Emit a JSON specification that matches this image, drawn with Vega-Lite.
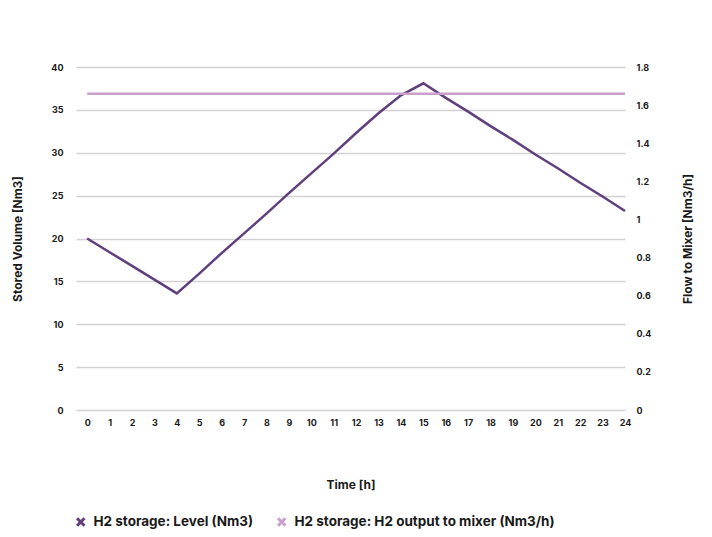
{
  "$schema": "https://vega.github.io/schema/vega-lite/v6.json",
  "width": 549,
  "height": 343,
  "autosize": "none",
  "padding": {"left": 76, "top": 67, "right": 87, "bottom": 127},
  "background": "white",
  "config": {
    "view": {"stroke": null},
    "font": "Inter",
    "axis": {
      "labelFont": "Inter", "labelFontWeight": "bold", "labelFontSize": 9, "labelColor": "#1a1a1a",
      "titleFont": "Inter", "titleFontWeight": "bold", "titleFontSize": 12, "titleColor": "#1a1a1a",
      "domain": false, "ticks": false, "gridColor": "#d2d2d2", "gridWidth": 1.5
    },
    "legend": {
      "labelFont": "Inter", "labelFontWeight": "bold", "labelFontSize": 13.5, "labelColor": "#1a1a1a", "labelLimit": 400
    }
  },
  "data": {"values": [
    {"hour": 0, "series": "H2 storage: Level (Nm3)", "value": 20},
    {"hour": 1, "series": "H2 storage: Level (Nm3)", "value": 18.4},
    {"hour": 2, "series": "H2 storage: Level (Nm3)", "value": 16.8},
    {"hour": 3, "series": "H2 storage: Level (Nm3)", "value": 15.2},
    {"hour": 4, "series": "H2 storage: Level (Nm3)", "value": 13.6},
    {"hour": 5, "series": "H2 storage: Level (Nm3)", "value": 15.9},
    {"hour": 6, "series": "H2 storage: Level (Nm3)", "value": 18.3},
    {"hour": 7, "series": "H2 storage: Level (Nm3)", "value": 20.6},
    {"hour": 8, "series": "H2 storage: Level (Nm3)", "value": 22.9},
    {"hour": 9, "series": "H2 storage: Level (Nm3)", "value": 25.3},
    {"hour": 10, "series": "H2 storage: Level (Nm3)", "value": 27.6},
    {"hour": 11, "series": "H2 storage: Level (Nm3)", "value": 29.9},
    {"hour": 12, "series": "H2 storage: Level (Nm3)", "value": 32.3},
    {"hour": 13, "series": "H2 storage: Level (Nm3)", "value": 34.6},
    {"hour": 14, "series": "H2 storage: Level (Nm3)", "value": 36.7},
    {"hour": 15, "series": "H2 storage: Level (Nm3)", "value": 38.1},
    {"hour": 16, "series": "H2 storage: Level (Nm3)", "value": 36.4},
    {"hour": 17, "series": "H2 storage: Level (Nm3)", "value": 34.8},
    {"hour": 18, "series": "H2 storage: Level (Nm3)", "value": 33.1},
    {"hour": 19, "series": "H2 storage: Level (Nm3)", "value": 31.5},
    {"hour": 20, "series": "H2 storage: Level (Nm3)", "value": 29.8},
    {"hour": 21, "series": "H2 storage: Level (Nm3)", "value": 28.2},
    {"hour": 22, "series": "H2 storage: Level (Nm3)", "value": 26.5},
    {"hour": 23, "series": "H2 storage: Level (Nm3)", "value": 24.9},
    {"hour": 24, "series": "H2 storage: Level (Nm3)", "value": 23.2},
    {"hour": 0, "series": "H2 storage: H2 output to mixer (Nm3/h)", "value": 1.66},
    {"hour": 1, "series": "H2 storage: H2 output to mixer (Nm3/h)", "value": 1.66},
    {"hour": 2, "series": "H2 storage: H2 output to mixer (Nm3/h)", "value": 1.66},
    {"hour": 3, "series": "H2 storage: H2 output to mixer (Nm3/h)", "value": 1.66},
    {"hour": 4, "series": "H2 storage: H2 output to mixer (Nm3/h)", "value": 1.66},
    {"hour": 5, "series": "H2 storage: H2 output to mixer (Nm3/h)", "value": 1.66},
    {"hour": 6, "series": "H2 storage: H2 output to mixer (Nm3/h)", "value": 1.66},
    {"hour": 7, "series": "H2 storage: H2 output to mixer (Nm3/h)", "value": 1.66},
    {"hour": 8, "series": "H2 storage: H2 output to mixer (Nm3/h)", "value": 1.66},
    {"hour": 9, "series": "H2 storage: H2 output to mixer (Nm3/h)", "value": 1.66},
    {"hour": 10, "series": "H2 storage: H2 output to mixer (Nm3/h)", "value": 1.66},
    {"hour": 11, "series": "H2 storage: H2 output to mixer (Nm3/h)", "value": 1.66},
    {"hour": 12, "series": "H2 storage: H2 output to mixer (Nm3/h)", "value": 1.66},
    {"hour": 13, "series": "H2 storage: H2 output to mixer (Nm3/h)", "value": 1.66},
    {"hour": 14, "series": "H2 storage: H2 output to mixer (Nm3/h)", "value": 1.66},
    {"hour": 15, "series": "H2 storage: H2 output to mixer (Nm3/h)", "value": 1.66},
    {"hour": 16, "series": "H2 storage: H2 output to mixer (Nm3/h)", "value": 1.66},
    {"hour": 17, "series": "H2 storage: H2 output to mixer (Nm3/h)", "value": 1.66},
    {"hour": 18, "series": "H2 storage: H2 output to mixer (Nm3/h)", "value": 1.66},
    {"hour": 19, "series": "H2 storage: H2 output to mixer (Nm3/h)", "value": 1.66},
    {"hour": 20, "series": "H2 storage: H2 output to mixer (Nm3/h)", "value": 1.66},
    {"hour": 21, "series": "H2 storage: H2 output to mixer (Nm3/h)", "value": 1.66},
    {"hour": 22, "series": "H2 storage: H2 output to mixer (Nm3/h)", "value": 1.66},
    {"hour": 23, "series": "H2 storage: H2 output to mixer (Nm3/h)", "value": 1.66},
    {"hour": 24, "series": "H2 storage: H2 output to mixer (Nm3/h)", "value": 1.66}
  ]},
  "encoding": {
    "x": {
      "field": "hour", "type": "quantitative", "title": "Time [h]",
      "scale": {"domain": [-0.5, 24], "nice": false, "zero": false},
      "axis": {"values": [0,1,2,3,4,5,6,7,8,9,10,11,12,13,14,15,16,17,18,19,20,21,22,23,24], "grid": false, "labelPadding": 8, "titlePadding": 52, "labelFlush": false}
    },
    "color": {
      "field": "series", "type": "nominal",
      "scale": {"domain": ["H2 storage: Level (Nm3)", "H2 storage: H2 output to mixer (Nm3/h)"], "range": ["#5f3f7c", "#c9a0cc"]},
      "legend": {
        "title": null, "orient": "none", "direction": "horizontal",
        "legendX": -2, "legendY": 448,
        "symbolType": "M-1,-1L1,1M1,-1L-1,1", "symbolSize": 55, "symbolStrokeWidth": 3,
        "labelOffset": 6, "columnPadding": 18
      }
    }
  },
  "layer": [
    {
      "transform": [{"filter": "datum.series === 'H2 storage: Level (Nm3)'"}],
      "mark": {"type": "line", "strokeWidth": 2.5},
      "encoding": {
        "y": {
          "field": "value", "type": "quantitative", "title": "Stored Volume [Nm3]",
          "scale": {"domain": [0, 40], "nice": false},
          "axis": {"orient": "left", "values": [0,5,10,15,20,25,30,35,40], "labelPadding": 13, "titlePadding": 26}
        }
      }
    },
    {
      "transform": [{"filter": "datum.series === 'H2 storage: H2 output to mixer (Nm3/h)'"}],
      "mark": {"type": "line", "strokeWidth": 2.5},
      "encoding": {
        "y": {
          "field": "value", "type": "quantitative", "title": "Flow to Mixer [Nm3/h]",
          "scale": {"domain": [0, 1.8], "nice": false},
          "axis": {"orient": "right", "values": [0,0.2,0.4,0.6,0.8,1,1.2,1.4,1.6,1.8], "format": ".1~f", "grid": false, "labelPadding": 11, "titlePadding": 44, "titleAngle": 270}
        }
      }
    }
  ],
  "resolve": {"scale": {"y": "independent"}}
}
